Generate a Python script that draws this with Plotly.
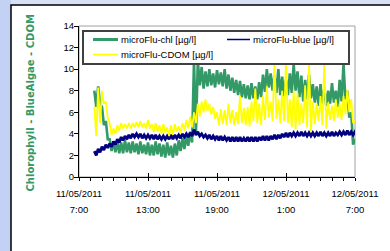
import plotly.graph_objects as go
import pandas as pd

# ---------------- data ----------------
series_names = ["microFlu-chl [µg/l]", "microFlu-blue [µg/l]", "microFlu-CDOM [µg/l]"]
series_colors = ["#339966", "#000080", "#FFFF00"]

sample_start = "2011-05-11 08:20"   # first reading, then every 20 min
# upper / lower envelope of each noisy record at every 20-min sample
chl_hi = [8.0, 8.4, 6.5, 5.2, 3.5, 3.3, 3.3, 3.2, 3.4, 3.2, 3.3, 3.1, 3.3, 3.0, 3.2, 3.0, 3.3,
          3.1, 3.0, 3.2, 2.9, 3.1, 3.4, 3.6, 3.8, 4.2, 10.8, 10.8, 10.2, 9.8, 10.0, 9.6, 9.9,
          9.7, 10.0, 9.5, 9.2, 9.0, 8.9, 8.6, 8.5, 8.7, 8.4, 8.8, 9.5, 10.0, 9.6, 9.4, 10.0,
          9.3, 9.0, 9.6, 10.5, 9.8, 9.4, 9.0, 9.5, 8.6, 8.4, 8.6, 8.2, 8.0, 8.7, 8.0, 9.0,
          10.5, 8.0, 6.0, 3.5]
chl_lo = [6.5, 6.8, 4.8, 3.5, 2.4, 2.3, 2.2, 2.2, 2.3, 2.2, 2.3, 2.1, 2.2, 2.1, 2.0, 2.0, 2.1,
          1.9, 1.8, 2.0, 1.8, 2.0, 2.4, 2.6, 2.9, 3.2, 4.0, 8.5, 8.2, 8.4, 8.5, 8.3, 8.6,
          8.4, 8.2, 8.0, 7.8, 7.6, 7.4, 7.3, 7.2, 7.3, 7.2, 7.4, 7.9, 8.3, 8.0, 7.8, 7.6,
          7.5, 7.6, 7.8, 8.0, 7.4, 7.0, 7.2, 7.3, 6.9, 6.6, 6.8, 6.6, 6.8, 6.9, 6.5, 7.0,
          7.2, 5.5, 3.0, 2.9]
blue_hi = [2.4, 2.6, 2.8, 3.0, 3.1, 3.3, 3.5, 3.7, 3.8, 3.9, 4.0, 4.0, 4.0, 3.9, 3.9, 3.9, 3.9,
           3.8, 3.8, 3.8, 3.9, 3.9, 3.9, 4.0, 4.0, 4.1, 4.4, 4.2, 4.0, 3.9, 3.9, 3.8, 3.8,
           3.8, 3.7, 3.7, 3.7, 3.7, 3.7, 3.6, 3.7, 3.7, 3.7, 3.7, 3.8, 3.8, 3.8, 3.9, 3.9,
           4.0, 4.1, 4.1, 4.1, 4.1, 4.2, 4.1, 4.1, 4.1, 4.1, 4.2, 4.1, 4.1, 4.2, 4.1, 4.2,
           4.2, 4.3, 4.2, 4.2]
blue_lo = [2.0, 2.3, 2.5, 2.7, 2.8, 3.0, 3.2, 3.4, 3.5, 3.6, 3.7, 3.7, 3.6, 3.6, 3.6, 3.5, 3.5,
           3.5, 3.5, 3.5, 3.5, 3.6, 3.6, 3.7, 3.7, 3.8, 3.9, 3.8, 3.7, 3.6, 3.5, 3.5, 3.4,
           3.4, 3.4, 3.3, 3.3, 3.3, 3.3, 3.3, 3.3, 3.3, 3.3, 3.4, 3.4, 3.4, 3.5, 3.5, 3.6,
           3.7, 3.7, 3.8, 3.8, 3.8, 3.8, 3.8, 3.8, 3.8, 3.8, 3.8, 3.8, 3.8, 3.8, 3.9, 3.9,
           3.9, 3.9, 3.9, 3.9]
cdom_hi = [6.5, 8.3, 8.0, 7.0, 5.0, 4.5, 4.8, 5.0, 4.9, 5.0, 5.0, 5.1, 5.2, 5.0, 5.3, 4.9, 5.0,
           4.8, 4.9, 4.6, 4.8, 4.9, 4.7, 5.0, 5.3, 5.6, 6.0, 6.8, 7.0, 7.2, 6.8, 6.5, 6.0,
           6.3, 6.2, 6.8, 6.2, 6.0, 7.5, 6.4, 6.5, 7.0, 8.2, 6.8, 7.5, 8.4, 7.0, 10.8, 7.2,
           8.0, 10.8, 7.2, 8.0, 7.8, 6.8, 8.5, 10.8, 7.0, 6.8, 7.5, 10.8, 6.9, 6.6, 7.2, 6.8,
           7.5, 8.1, 7.2, 5.2]
cdom_lo = [3.8, 5.0, 6.8, 5.5, 3.9, 4.0, 4.3, 4.5, 4.5, 4.5, 4.6, 4.6, 4.6, 4.5, 4.5, 4.2, 4.2,
           4.0, 4.1, 3.8, 3.9, 4.2, 4.1, 4.3, 4.5, 4.6, 5.0, 5.6, 6.0, 6.1, 5.8, 5.4, 4.8,
           4.9, 4.8, 5.0, 4.8, 4.9, 5.0, 4.8, 4.7, 5.2, 5.0, 4.8, 5.3, 5.5, 5.2, 5.4, 5.0,
           5.2, 5.0, 4.6, 4.4, 4.8, 5.0, 4.6, 4.2, 4.9, 5.2, 4.8, 4.5, 5.3, 5.2, 5.5, 5.3,
           5.8, 6.0, 5.0, 4.6]

tick_times = ["2011-05-11 07:00", "2011-05-11 13:00", "2011-05-11 19:00",
              "2011-05-12 01:00", "2011-05-12 07:00"]
tick_dates = ["11/05/2011", "11/05/2011", "11/05/2011", "12/05/2011", "12/05/2011"]
tick_hours = ["7:00", "13:00", "19:00", "1:00", "7:00"]
y_ticks = [0, 2, 4, 6, 8, 10, 12, 14]
y_title = "Chlorophyll - BlueAlgae - CDOM"

# ---------------- build ----------------
W, H = 390, 251
L, R, T, B = 79, 35, 26, 74
PW, PH = W - L - R, H - T - B


def px_x(p):   # page pixel -> paper x
    return (p - L) / PW


def px_y(p):   # page pixel -> paper y
    return (H - B - p) / PH


times = pd.date_range(sample_start, periods=len(chl_hi), freq="20min")


def zigzag(hi, lo):
    xs, ys = [], []
    for t, h, l in zip(times, hi, lo):
        xs += [t, t + pd.Timedelta(minutes=10)]
        ys += [h, l]
    return xs, ys


trace_widths = [2.6, 2.8, 1.8]
legend_widths = [3.0, 1.5, 1.5]
fig = go.Figure()
for name, color, hi, lo, w, xa in [
    (series_names[0], series_colors[0], chl_hi, chl_lo, trace_widths[0], "x"),
    (series_names[1], series_colors[1], blue_hi, blue_lo, trace_widths[1], "x"),
    (series_names[2], series_colors[2], cdom_hi, cdom_lo, trace_widths[2], "x2"),
]:
    xs, ys = zigzag(hi, lo)
    fig.add_trace(go.Scatter(x=xs, y=ys, mode="lines", name=name, xaxis=xa,
                             line=dict(color=color, width=w, simplify=False)))

tickfont = dict(family="Liberation Sans, Arial", size=9.5, color="black")

shapes = [
    # slide background strip + white chart box
    dict(type="rect", xref="paper", yref="paper",
         x0=px_x(0), x1=px_x(11), y0=px_y(W), y1=px_y(0),
         fillcolor="#c3d2f4", line=dict(width=0), layer="below"),
    dict(type="rect", xref="paper", yref="paper",
         x0=px_x(11), x1=2, y0=-2, y1=px_y(5),
         fillcolor="white", line=dict(color="black", width=1.5), layer="below"),
    dict(type="rect", xref="x domain", yref="y domain", x0=0, x1=1, y0=0, y1=1,
         line=dict(color="#a0a0a0", width=1), layer="below"),
    # legend box (drawn by hand so the rows can be as tight as the original)
    dict(type="rect", xref="paper", yref="paper",
         x0=px_x(83), x1=px_x(349), y0=px_y(64), y1=px_y(31),
         fillcolor="white", line=dict(color="#404040", width=2), layer="above"),
]
annotations = [
    dict(text=y_title, xref="paper", yref="paper", x=px_x(30.5), y=px_y(103),
         textangle=-90, showarrow=False, xanchor="center", yanchor="middle",
         font=dict(family="DejaVu Sans", size=10, color="#339966", weight="bold")),
]
legend_slots = [(93, 118, 39.5), (227, 250, 39.5), (93, 118, 54.5)]
for i, (sx0, sx1, sy) in enumerate(legend_slots):
    shapes.append(dict(type="line", xref="paper", yref="paper",
                       x0=px_x(sx0), x1=px_x(sx1), y0=px_y(sy), y1=px_y(sy),
                       line=dict(color=series_colors[i], width=legend_widths[i]),
                       layer="above"))
    annotations.append(dict(text=series_names[i], xref="paper", yref="paper",
                            x=px_x(sx1 + 1), y=px_y(sy), xanchor="left",
                            yanchor="middle", showarrow=False,
                            font=dict(family="Liberation Sans, Arial", size=9.5,
                                      color="black")))

fig.update_layout(
    width=W, height=H,
    margin=dict(l=L, r=R, t=T, b=B, autoexpand=False),
    paper_bgcolor="#d6e0f7",
    plot_bgcolor="white",
    showlegend=False,
    xaxis=dict(range=[tick_times[0], tick_times[-1]], tickmode="array",
               tickvals=tick_times, ticktext=tick_dates, ticks="outside",
               ticklen=3, tickcolor="black", showline=True, linecolor="black",
               linewidth=1, showgrid=False, zeroline=False, tickfont=tickfont,
               automargin=False, ticklabelstandoff=5,
               minor=dict(ticks="outside", ticklen=3, dtick=3600000,
                          tick0=tick_times[0], tickcolor="black", showgrid=False)),
    xaxis2=dict(overlaying="x", anchor="y", side="bottom",
                range=[tick_times[0], tick_times[-1]], tickmode="array",
                tickvals=tick_times, ticktext=tick_hours, ticks="inside",
                ticklen=4, tickcolor="black", showline=False, showgrid=False,
                zeroline=False, tickfont=tickfont, ticklabelstandoff=25,
                automargin=False),
    yaxis=dict(range=[0, 14], tickvals=y_ticks, ticks="outside", ticklen=4,
               tickcolor="black", showline=True, linecolor="black", linewidth=1,
               showgrid=False, zeroline=False, tickfont=tickfont, automargin=False,
               ticklabelstandoff=-2),
    shapes=shapes,
    annotations=annotations,
)

fig.write_html("out.html", config={"displayModeBar": False},
               post_script="document.body.style.margin='0px';")
